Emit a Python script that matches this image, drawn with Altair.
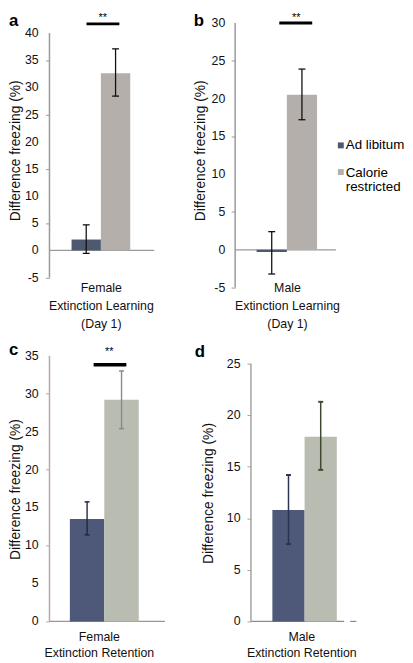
import altair as alt
import pandas as pd

FONT = "Liberation Sans"

groups = ["Ad libitum", "Calorie restricted"]
y_title = "Difference freezing (%)"
sig_text = "**"

# panel a: female, extinction learning (day 1)
a_mean = [2.0, 32.6]
a_hi = [4.7, 37.1]
a_lo = [-0.55, 28.4]
a_ticks = [-5, 0, 5, 10, 15, 20, 25, 30, 35, 40]
a_label = ["Female", "Extinction Learning", "(Day 1)"]
a_sig = 41.7

# panel b: male, extinction learning (day 1)
b_mean = [-0.3, 20.5]
b_hi = [2.4, 23.9]
b_lo = [-3.2, 17.2]
b_ticks = [-5, 0, 5, 10, 15, 20, 25, 30]
b_label = ["Male", "Extinction Learning", "(Day 1)"]
b_sig = 30

# panel c: female, extinction retention
c_mean = [13.5, 29.2]
c_hi = [15.75, 33.0]
c_lo = [11.4, 25.4]
c_ticks = [0, 5, 10, 15, 20, 25, 30, 35]
c_label = ["Female", "Extinction Retention"]
c_sig = 33.8

# panel d: male, extinction retention
d_mean = [10.8, 17.9]
d_hi = [14.2, 21.3]
d_lo = [7.5, 14.7]
d_ticks = [0, 5, 10, 15, 20, 25]
d_label = ["Male", "Extinction Retention"]

one = pd.DataFrame({"k": [0]})


def panel(mean, hi, lo, ticks, xlabel, letter, *, w, h, ydom, pad, align,
          bar_colors, err_colors, err_w, cap, cap_t, axis_color, base_color,
          lab_x, title_x, title_y, xt_x, xt_y, xt_lh, letter_x, letter_y,
          base_end=None, sig=None, star=None, dash=None, legend=None):
    df = pd.DataFrame({"group": groups, "mean": mean, "hi": hi, "lo": lo})
    tick_df = pd.DataFrame({"v": ticks, "lab": [str(t) for t in ticks]})
    xs = alt.Scale(domain=groups, paddingInner=0, paddingOuter=pad, align=align)
    ys = alt.Scale(domain=ydom, nice=False, zero=False)
    layers = []
    bars = alt.Chart(df).mark_bar().encode(
        x=alt.X("group:N", scale=xs, axis=alt.Axis(
            labels=False, ticks=False, domain=False, title=xlabel,
            titleX=xt_x, titleY=xt_y, titleBaseline="top", titleAlign="center",
            titleFontSize=12.5, titleLineHeight=xt_lh)),
        y=alt.Y("mean:Q", scale=ys, stack=None, axis=alt.Axis(
            values=ticks, domain=False, grid=False, tickSize=4, tickColor=axis_color,
            tickWidth=1, labels=False,
            title=y_title, titleX=title_x, titleY=title_y, titleAngle=270,
            titleAlign="center", titleBaseline="bottom", titleFontSize=14)),
        y2=alt.Y2Datum(0),
        color=alt.Color("group:N", scale=alt.Scale(domain=groups, range=bar_colors), legend=None),
    )
    # zero baseline (drawn under the bars)
    layers.append(alt.Chart(one).mark_rule(color=base_color, strokeWidth=1.2).encode(
        x=alt.value(0), x2=alt.value(base_end if base_end else w),
        y=alt.YDatum(0, scale=ys)))
    if dash:
        layers.append(alt.Chart(one).mark_rule(color=base_color, strokeWidth=1.2).encode(
            x=alt.value(dash[0]), x2=alt.value(dash[1]),
            y=alt.YDatum(0, scale=ys)))
    layers.append(bars)
    # y axis line
    layers.append(alt.Chart(one).mark_rule(color=axis_color, strokeWidth=1.5).encode(
        x=alt.value(0), y=alt.YDatum(ticks[0], scale=ys), y2=alt.Y2Datum(ticks[-1])))
    # y tick labels
    layers.append(alt.Chart(tick_df).mark_text(
        align="right", baseline="middle", font=FONT, fontSize=12.5, color="#111111").encode(
        x=alt.value(lab_x), y=alt.Y("v:Q", scale=ys), text="lab:N"))
    # error bars
    for g, col in zip(groups, err_colors):
        sub = alt.Chart(df).transform_filter(alt.datum.group == g)
        layers.append(sub.mark_rule(color=col, strokeWidth=err_w).encode(
            x=alt.X("group:N", scale=xs),
            y=alt.Y("lo:Q", scale=ys), y2="hi:Q"))
        for fld in ["hi", "lo"]:
            layers.append(sub.mark_tick(color=col, size=cap, thickness=cap_t, opacity=1).encode(
                x=alt.X("group:N", scale=xs),
                y=alt.Y(f"{fld}:Q", scale=ys)))
    if sig:
        yv, s0, s1, sw = sig
        layers.append(alt.Chart(one).mark_rule(color="black", strokeWidth=sw).encode(
            x=alt.XDatum(groups[0], type="nominal", bandPosition=s0, scale=xs),
            x2=alt.X2Datum(groups[1], bandPosition=s1),
            y=alt.YDatum(yv, scale=ys)))
    if star:
        sp, sy = star
        layers.append(alt.Chart(one).mark_text(
            text=sig_text, font=FONT, fontSize=11, baseline="top", align="center", color="black").encode(
            x=alt.XDatum(groups[1], type="nominal", bandPosition=sp, scale=xs),
            y=alt.value(sy)))
    layers.append(alt.Chart(one).mark_text(
        text=letter, font=FONT, fontSize=17, fontWeight="bold", align="left",
        baseline="alphabetic", color="black").encode(
        x=alt.value(letter_x), y=alt.value(letter_y)))
    if legend:
        lx, ly0, ly1, tx, cols = legend
        for yy, col in zip([ly0, ly1], cols):
            layers.append(alt.Chart(one).mark_square(size=36, filled=True, opacity=1, color=col).encode(
                x=alt.value(lx), y=alt.value(yy)))
        layers.append(alt.Chart(one).mark_text(
            text=groups[0], font=FONT, fontSize=13.5, align="left", baseline="middle", color="black").encode(
            x=alt.value(tx), y=alt.value(ly0)))
        layers.append(alt.Chart(one).mark_text(
            text=groups[1], lineBreak=" ", lineHeight=14.5, font=FONT, fontSize=13.5,
            align="left", baseline="top", color="black").encode(
            x=alt.value(tx), y=alt.value(ly1 - 6)))
    return alt.layer(*layers).properties(width=w, height=h)


ab_bars = ["#4d596e", "#b4afab"]
cd_bars = ["#4e5878", "#b9bcb0"]

pa = panel(a_mean, a_hi, a_lo, a_ticks, a_label, "a",
           w=106, h=268, ydom=[-6.85, 41.87], pad=0.784, align=0.48,
           bar_colors=ab_bars, err_colors=["#111111", "#111111"], err_w=1.3, cap=7, cap_t=1.3,
           axis_color="#999999", base_color="#999999", lab_x=-11,
           title_x=-27, title_y=129, xt_x=52, xt_y=-6, xt_lh=18,
           letter_x=-41, letter_y=3,
           sig=(a_sig, 0.51, 0.63, 3), star=(0.06, -11))

pb = panel(b_mean, b_hi, b_lo, b_ticks, b_label, "b",
           w=102, h=268, ydom=[-5, 30], pad=0.667, align=0.533,
           bar_colors=ab_bars, err_colors=["#111111", "#111111"], err_w=1.3, cap=7, cap_t=1.3,
           axis_color="#999999", base_color="#999999", lab_x=-10,
           title_x=-28, title_y=129, xt_x=52.5, xt_y=-6, xt_lh=18,
           letter_x=-42, letter_y=3,
           sig=(b_sig, 0.75, 0.84, 3), star=(0.31, -11),
           legend=(107, 124, 151, 112, ab_bars))

pc = panel(c_mean, c_hi, c_lo, c_ticks, c_label, "c",
           w=117, h=269, ydom=[0, 35], pad=0.677, align=0.437,
           bar_colors=cd_bars, err_colors=["#1f2840", "#8a8a8a"], err_w=1.4, cap=5, cap_t=1.5,
           axis_color="#b8a9a9", base_color="#a8908c", lab_x=-11,
           title_x=-27, title_y=135, xt_x=50, xt_y=9, xt_lh=16.5,
           letter_x=-41, letter_y=-1,
           sig=(c_sig, 0.69, 0.64, 3.5), star=(0.14, -9.4))

pd_ = panel(d_mean, d_hi, d_lo, d_ticks, d_label, "d",
            w=107, h=269, ydom=[0, 25.77], pad=0.64, align=0.52,
            bar_colors=cd_bars, err_colors=["#2b3350", "#3e4a30"], err_w=1.5, cap=5, cap_t=2,
            axis_color="#a3a3a3", base_color="#8c8c8c", lab_x=-10.5,
            title_x=-36, title_y=139, xt_x=51, xt_y=9, xt_lh=16.5,
            letter_x=-57, letter_y=1,
            base_end=94.4, dash=(100.4, 106.7))

res = dict(x="independent", y="independent", color="independent")
row1 = alt.hconcat(pa, pb, spacing=38).resolve_scale(**res)
row2 = alt.hconcat(pc, pd_, spacing=29).resolve_scale(**res)

chart = (
    alt.vconcat(row1, row2, spacing=11)
    .resolve_scale(**res)
    .properties(padding=0)
    .configure_view(stroke=None)
    .configure_axis(labelFont=FONT, titleFont=FONT, labelColor="#111111",
                    titleColor="#111111", titleFontWeight="normal", grid=False)
)

chart.save("out.html", embed_options={"renderer": "svg", "actions": False})
